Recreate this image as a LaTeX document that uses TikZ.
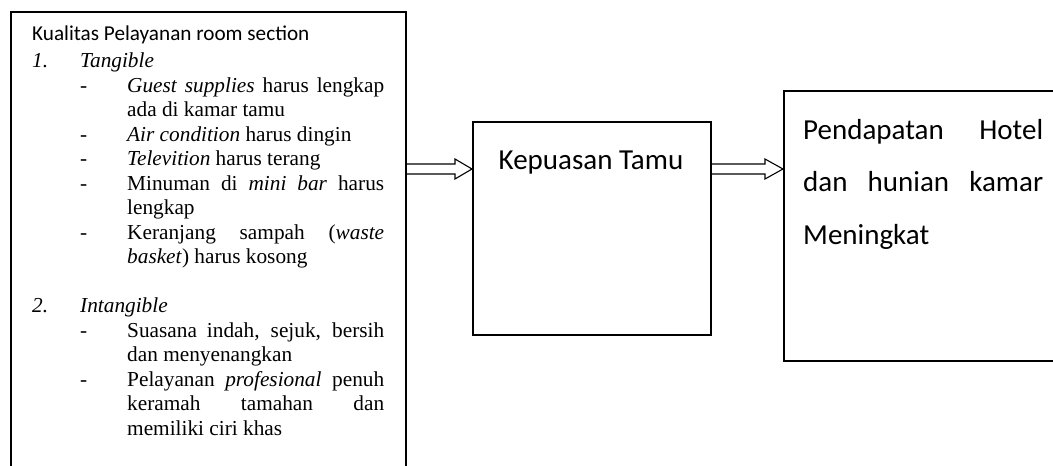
\documentclass[tikz,border=0pt]{standalone}
\usepackage{fontspec}
\setmainfont{Liberation Serif}
\newfontfamily\calib{Carlito}
\usetikzlibrary{calc}
\begin{document}
\begin{tikzpicture}[x=1pt,y=-1pt,
  box/.style={draw, line width=1.5pt, inner sep=0pt},
  tr/.style={inner sep=0pt, anchor=base west, font=\fontsize{21.3}{24}\selectfont},
  cb/.style={inner sep=0pt, anchor=base west, font=\calib\fontsize{21.2}{25}\selectfont},
  cbig/.style={inner sep=0pt, anchor=base west, font=\calib\fontsize{29}{35}\selectfont},
  hollow/.style={draw, line width=1.1pt, line join=miter}
]
\useasboundingbox (0,0) rectangle (1053,466);
\fill[white] (0,0) rectangle (1053,466);
\clip (0,0) rectangle (1053,466);

% boxes
\node[box, line width=1.8pt, anchor=north west, minimum width=395pt, minimum height=520pt] (qual) at (10,11) {};
\node[box, anchor=north west, minimum width=238pt, minimum height=213pt] (kep) at (472,121) {};
\node[box, anchor=north west, minimum width=300pt, minimum height=270pt] (pend) at (783,90) {};

% hollow arrows
\coordinate (a1s) at (qual.east |- 0,169);
\coordinate (a1e) at (kep.west |- 0,169);
\draw[hollow] ($(a1s)+(0,-5)$) -- ($(a1e)+(-17,-5)$) -- ($(a1e)+(-17,-10)$) -- (a1e)
  -- ($(a1e)+(-17,10)$) -- ($(a1e)+(-17,5)$) -- ($(a1s)+(0,5)$);
\coordinate (a2s) at (kep.east |- 0,169);
\coordinate (a2e) at (pend.west |- 0,169);
\draw[hollow] ($(a2s)+(0,-5)$) -- ($(a2e)+(-18,-5)$) -- ($(a2e)+(-18,-10)$) -- (a2e)
  -- ($(a2e)+(-18,10)$) -- ($(a2e)+(-18,5)$) -- ($(a2s)+(0,5)$);

% left box text
\node[cb] (t0) at (32,40) {Kualitas Pelayanan room section};
\node[tr] (n1) at (32,67) {\textit{1.}};
\node[tr] (h1) at (80,67) {\textit{Tangible}};
\node[tr] (d1) at (80,92) {-};
\node[tr] (l1) at (127,92) {\makebox[257pt][s]{\textit{Guest supplies} harus lengkap}};
\node[tr] (l2) at (127,116) {ada di kamar tamu};
\node[tr] (d2) at (80,141) {-};
\node[tr] (l3) at (127,141) {\textit{Air condition} harus dingin};
\node[tr] (d3) at (80,165) {-};
\node[tr] (l4) at (127,165) {\textit{Televition} harus terang};
\node[tr] (d4) at (80,190) {-};
\node[tr] (l5) at (127,190) {\makebox[257pt][s]{Minuman di \textit{mini bar} harus}};
\node[tr] (l6) at (127,214) {lengkap};
\node[tr] (d5) at (80,239) {-};
\node[tr] (l7) at (127,239) {\makebox[257pt][s]{Keranjang sampah (\textit{waste}}};
\node[tr] (l8) at (127,263) {\textit{basket}) harus kosong};
\node[tr] (n2) at (32,312) {\textit{2.}};
\node[tr] (h2) at (80,312) {\textit{Intangible}};
\node[tr] (d6) at (80,337) {-};
\node[tr] (l9) at (127,337) {\makebox[257pt][s]{Suasana indah, sejuk, bersih}};
\node[tr] (l10) at (127,361) {dan menyenangkan};
\node[tr] (d7) at (80,386) {-};
\node[tr] (l11) at (127,386) {\makebox[257pt][s]{Pelayanan \textit{profesional} penuh}};
\node[tr] (l12) at (127,410) {\makebox[257pt][s]{keramah tamahan dan}};
\node[tr] (l13) at (127,435) {memiliki ciri khas};

% middle box text
\node[cbig, anchor=base] (kt) at (591,169) {Kepuasan Tamu};

% right box text
\node[cbig] (p1) at (803,139.5) {\makebox[240pt][s]{Pendapatan Hotel}};
\node[cbig] (p2) at (803,191.5) {\makebox[240pt][s]{dan hunian kamar}};
\node[cbig] (p3) at (803,244) {Meningkat};
\end{tikzpicture}
\end{document}
